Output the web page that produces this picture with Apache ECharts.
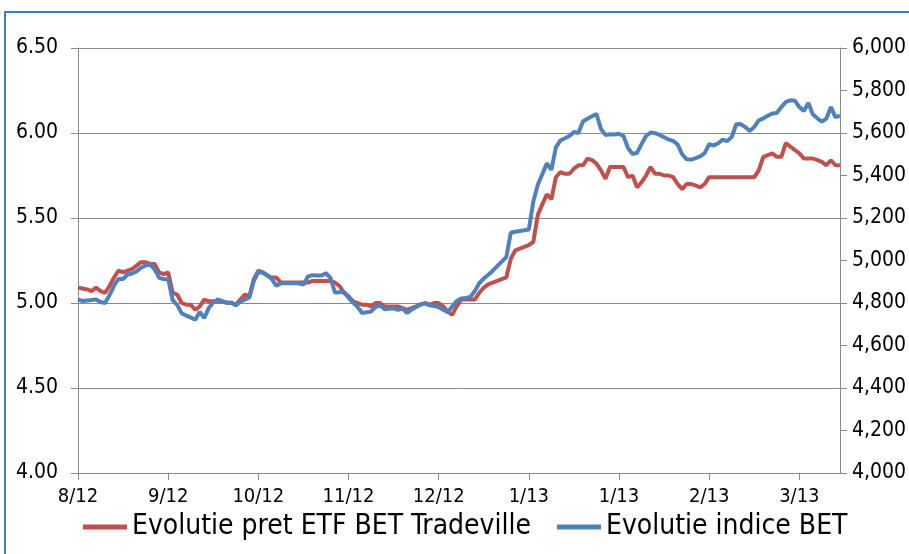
<!DOCTYPE html>
<html>
<head>
<meta charset="utf-8">
<script src="https://cdn.jsdelivr.net/npm/echarts@6/dist/echarts.min.js"></script>
<style>
html,body{margin:0;padding:0;background:#fff;}
#chart{width:909px;height:554px;}
</style>
</head>
<body>
<div id="chart"></div>
<script>
// Tick labels shown on the category axis (one every 20 trading days)
const tickLabels = ['8/12','9/12','10/12','11/12','12/12','1/13','1/13','2/13','3/13'];
const labelStep = 20;

// Evolutie pret ETF BET Tradeville (left axis, RON)
const etfPrice = [
5.09,5.085,5.08,5.07,5.09,5.07,5.06,5.10,5.15,5.19,
5.18,5.19,5.20,5.22,5.24,5.24,5.23,5.23,5.18,5.17,
5.18,5.06,5.05,5.00,4.99,4.99,4.96,4.98,5.02,5.01,
5.01,5.01,5.01,5.00,5.00,4.99,5.02,5.05,5.04,5.14,
5.19,5.18,5.16,5.15,5.15,5.12,5.12,5.12,5.12,5.12,
5.12,5.12,5.13,5.13,5.13,5.13,5.13,5.12,5.10,5.06,
5.04,5.01,5.00,4.99,4.99,4.98,5.00,5.00,4.98,4.98,
4.98,4.98,4.97,4.96,4.97,4.98,4.99,5.00,4.99,5.00,
5.00,4.98,4.95,4.93,4.98,5.02,5.02,5.02,5.02,5.06,
5.09,5.11,5.12,5.13,5.14,5.15,5.26,5.31,5.32,5.33,
5.34,5.36,5.52,5.58,5.64,5.61,5.74,5.77,5.76,5.76,
5.79,5.81,5.81,5.85,5.84,5.82,5.78,5.73,5.80,5.80,
5.80,5.80,5.74,5.75,5.68,5.71,5.75,5.80,5.76,5.76,
5.75,5.75,5.74,5.70,5.67,5.70,5.70,5.69,5.68,5.70,
5.74,5.74,5.74,5.74,5.74,5.74,5.74,5.74,5.74,5.74,
5.74,5.78,5.86,5.87,5.88,5.86,5.86,5.94,5.92,5.90,
5.88,5.85,5.85,5.85,5.84,5.83,5.81,5.84,5.81,5.81
];

// Evolutie indice BET (right axis, points)
const betIndex = [
4817,4809,4812,4814,4817,4805,4800,4838,4881,4914,
4913,4934,4939,4949,4966,4977,4982,4958,4918,4912,
4912,4814,4791,4751,4741,4732,4721,4758,4729,4776,
4802,4817,4809,4802,4802,4789,4806,4816,4826,4904,
4946,4942,4932,4912,4881,4893,4893,4893,4893,4893,
4886,4925,4931,4929,4929,4940,4918,4849,4851,4853,
4824,4802,4782,4753,4756,4760,4781,4789,4771,4773,
4775,4768,4774,4753,4769,4781,4793,4798,4789,4786,
4781,4768,4757,4784,4809,4821,4824,4828,4855,4893,
4915,4933,4952,4974,4995,5016,5131,5135,5139,5142,
5146,5278,5358,5407,5457,5426,5532,5565,5575,5586,
5605,5600,5654,5667,5679,5689,5619,5591,5594,5593,
5596,5586,5529,5501,5507,5548,5586,5602,5599,5591,
5580,5569,5563,5546,5500,5476,5475,5482,5490,5505,
5548,5541,5552,5569,5562,5581,5641,5642,5628,5609,
5629,5659,5669,5681,5692,5694,5722,5746,5754,5752,
5722,5704,5741,5687,5669,5653,5668,5722,5675,5681
];

const seriesNames = ['Evolutie pret ETF BET Tradeville','Evolutie indice BET'];
const categories = etfPrice.map((_, i) => String(i));

const FONT = "'Liberation Sans Narrow','DejaVu Sans Condensed',sans-serif";
const AXIS_GRAY = '#8a8a8a';

const chart = echarts.init(document.getElementById('chart'), null, {renderer:'canvas'});
chart.setOption({
  animation: false,
  backgroundColor: '#ffffff',
  graphic: [{
    type: 'rect',
    shape: {x: 5, y: 12, width: 1000, height: 1000},
    style: {fill: 'none', stroke: '#3d7cc9', lineWidth: 2},
    silent: true
  }],
  grid: {left: 78, right: 66, top: 48, bottom: 81, containLabel: false},
  legend: {
    left: 78, top: 508,
    itemWidth: 44, itemHeight: 5, itemGap: 26,
    icon: 'rect',
    textStyle: {fontFamily: FONT, fontSize: 28, color: '#000'},
    data: seriesNames
  },
  xAxis: {
    type: 'category',
    boundaryGap: false,
    data: categories,
    axisLine: {lineStyle: {color: AXIS_GRAY, width: 1}},
    axisTick: {show: true, interval: labelStep - 1, length: 7, lineStyle: {color: AXIS_GRAY}},
    axisLabel: {
      interval: labelStep - 1,
      margin: 14,
      fontFamily: FONT, fontSize: 20, color: '#000',
      formatter: (v, idx) => (idx % labelStep === 0 ? tickLabels[idx / labelStep] : '')
    },
    splitLine: {show: false}
  },
  yAxis: [{
    type: 'value', position: 'left',
    min: 4, max: 6.5, interval: 0.5,
    axisLine: {show: true, lineStyle: {color: AXIS_GRAY}},
    axisTick: {show: true, length: 7, lineStyle: {color: AXIS_GRAY}},
    axisLabel: {margin: 20, fontFamily: FONT, fontSize: 21, color: '#000', formatter: v => v.toFixed(2)},
    splitLine: {show: true, lineStyle: {color: AXIS_GRAY, width: 1}}
  }, {
    type: 'value', position: 'right',
    min: 4000, max: 6000, interval: 200,
    axisLine: {show: true, lineStyle: {color: AXIS_GRAY}},
    axisTick: {show: true, length: 7, lineStyle: {color: AXIS_GRAY}},
    axisLabel: {margin: 12, fontFamily: FONT, fontSize: 21, color: '#000',
      formatter: v => v.toLocaleString('en-US')},
    splitLine: {show: false}
  }],
  series: [{
    name: seriesNames[0], type: 'line', yAxisIndex: 0,
    data: etfPrice, showSymbol: false, symbol: 'none',
    lineStyle: {color: '#C0504D', width: 4},
    itemStyle: {color: '#C0504D'}
  }, {
    name: seriesNames[1], type: 'line', yAxisIndex: 1,
    data: betIndex, showSymbol: false, symbol: 'none',
    lineStyle: {color: '#4F81BD', width: 4},
    itemStyle: {color: '#4F81BD'}
  }]
});
</script>
</body>
</html>
